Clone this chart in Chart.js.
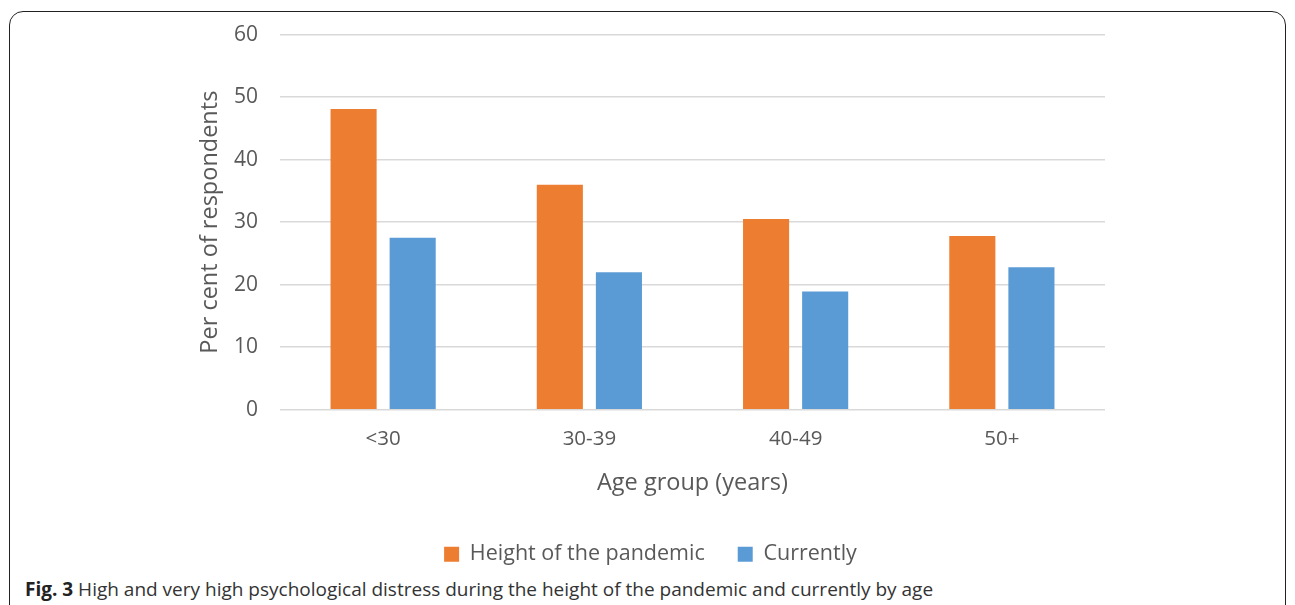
<!DOCTYPE html>
<html>
<head>
<meta charset="utf-8">
<script src="https://cdn.jsdelivr.net/npm/chart.js@4"></script>
<style>
  body { margin: 0; background: #fff; width: 1295px; height: 605px; overflow: hidden; position: relative; font-family: "Open Sans", sans-serif; }
  .frame { position: absolute; left: 9px; top: 11px; width: 1275px; height: 620px; border: 1.5px solid #222; border-radius: 14px; }
  .wrap { position: absolute; left: 0; top: 0; width: 1295px; height: 575px; }
  .caption { position: absolute; left: 25px; top: 576px; font-size: 19px; color: #333; white-space: nowrap; }
  .caption b { color: #222; }
</style>
</head>
<body>
<div class="frame"></div>
<div class="wrap"><canvas id="chart"></canvas></div>
<div class="caption"><b>Fig. 3</b> High and very high psychological distress during the height of the pandemic and currently by age</div>
<script>
const ageGroups = ['<30', '30-39', '40-49', '50+'];
const heightValues = [48.1, 36.0, 30.5, 27.8];
const currentValues = [27.5, 22.0, 18.9, 22.8];
const yTicks = [0, 10, 20, 30, 40, 50, 60];

const textColor = '#595959';

new Chart('chart', {
    type: 'bar',
    data: {
        labels: ageGroups,
        datasets: [{
            label: 'Height of the pandemic',
            data: heightValues,
            backgroundColor: '#ED7D31',
            categoryPercentage: 0.573,
            barPercentage: 0.78
        }, {
            label: 'Currently',
            data: currentValues,
            backgroundColor: '#5B9BD5',
            categoryPercentage: 0.573,
            barPercentage: 0.78
        }]
    },
    options: {
        responsive: true,
        maintainAspectRatio: false,
        animation: false,
        layout: { padding: { left: 196, right: 190, top: 30, bottom: 0 } },
        plugins: {
            tooltip: { enabled: false },
            legend: {
                position: 'bottom',
                labels: {
                    color: textColor,
                    font: { family: 'Open Sans', size: 21.5 },
                    boxWidth: 15,
                    boxHeight: 15,
                    padding: 33
                }
            }
        },
        scales: {
            x: {
                grid: { display: false },
                border: { display: false },
                ticks: { color: textColor, font: { family: 'Open Sans', size: 20.5 }, padding: 9 },
                title: {
                    display: true,
                    text: 'Age group (years)',
                    color: textColor,
                    font: { family: 'Open Sans', size: 23.5 },
                    padding: { top: 9, bottom: 13 }
                }
            },
            y: {
                min: 0,
                max: 60,
                afterBuildTicks: function (axis) {
                    axis.ticks = yTicks.map(v => ({ value: v }));
                },
                afterFit: function (axis) {
                    axis.width = 84;
                },
                grid: { color: '#D9D9D9', lineWidth: 1.5, drawTicks: false },
                border: { display: false },
                ticks: { color: textColor, font: { family: 'Open Sans', size: 21 }, padding: 22 },
                title: {
                    display: true,
                    text: 'Per cent of respondents',
                    color: textColor,
                    font: { family: 'Open Sans', size: 23.5 },
                    padding: 0
                }
            }
        }
    }
});
</script>
</body>
</html>
